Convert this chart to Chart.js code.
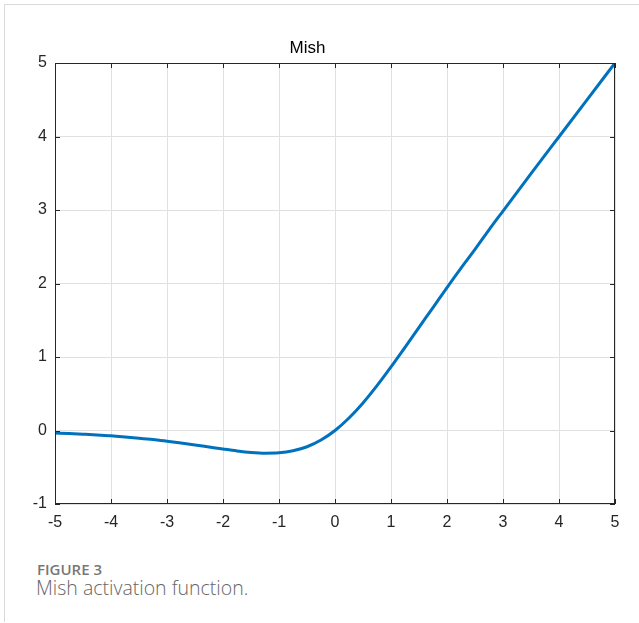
<!DOCTYPE html>
<html>
<head>
<meta charset="utf-8">
<script src="https://cdn.jsdelivr.net/npm/chart.js@4.4.0/dist/chart.umd.min.js"></script>
<style>
  body { margin: 0; background: #fff; }
  #frame {
    position: absolute; left: 4px; top: 4px; width: 635px; height: 617px;
    border-top: 1px solid #d9d9d9; border-left: 1px solid #d9d9d9;
  }
  #wrap { position: absolute; left: 0; top: 0; width: 639px; height: 540px; }
  .cap1 {
    position: absolute; left: 37px; top: 559px; line-height: 1;
    font: 600 15px "Open Sans", sans-serif; color: #777;
  }
  .cap2 {
    position: absolute; left: 36px; top: 574px; line-height: 1;
    font: 300 19.5px "Open Sans", sans-serif; color: #666;
  }
</style>
</head>
<body>
<div id="frame"></div>
<div id="wrap"><canvas id="chart" width="639" height="540"></canvas></div>
<div class="cap1">FIGURE 3</div>
<div class="cap2">Mish activation function.</div>
<script>
const xValues = [-5, -4.75, -4.5, -4.25, -4, -3.75, -3.5, -3.25, -3, -2.75, -2.5, -2.25, -2, -1.75, -1.5, -1.25, -1, -0.75, -0.5, -0.25, 0, 0.25, 0.5, 0.75, 1, 1.25, 1.5, 1.75, 2, 2.25, 2.5, 2.75, 3, 3.5, 4, 4.5, 5]
const mishValues = [-0.034, -0.041, -0.050, -0.060, -0.073, -0.087, -0.104, -0.123, -0.146, -0.170, -0.196, -0.224, -0.252, -0.278, -0.298, -0.308, -0.303, -0.276, -0.221, -0.130, 0, 0.170, 0.375, 0.610, 0.865, 1.132, 1.403, 1.673, 1.944, 2.209, 2.464, 2.730, 2.986, 3.494, 3.997, 4.499, 5.0]
const xTicks = [-5, -4, -3, -2, -1, 0, 1, 2, 3, 4, 5]
const yTicks = [-1, 0, 1, 2, 3, 4, 5]

const axisColor = '#262626'
const fontFamily = 'Liberation Sans, Arial, sans-serif'

// MATLAB-style box with inward tick marks
const boxPlugin = {
  id: 'box',
  afterDraw(chart) {
    const { ctx, chartArea: a, scales } = chart
    ctx.save()
    ctx.strokeStyle = axisColor
    ctx.lineWidth = 1
    ctx.strokeRect(a.left + 0.5, a.top + 0.5, a.right - a.left - 1, a.bottom - a.top - 1)
    const len = 5
    ctx.beginPath()
    xTicks.forEach(v => {
      const px = Math.round(scales.x.getPixelForValue(v)) + 0.5
      ctx.moveTo(px, a.bottom); ctx.lineTo(px, a.bottom - len)
      ctx.moveTo(px, a.top); ctx.lineTo(px, a.top + len)
    })
    yTicks.forEach(v => {
      const py = Math.round(scales.y.getPixelForValue(v)) + 0.5
      ctx.moveTo(a.left, py); ctx.lineTo(a.left + len, py)
      ctx.moveTo(a.right, py); ctx.lineTo(a.right - len, py)
    })
    ctx.stroke()
    ctx.restore()
  }
}

new Chart(document.getElementById('chart'), {
  type: 'line',
  data: {
    datasets: [{
      label: 'Mish',
      data: xValues.map((x, i) => ({ x: x, y: mishValues[i] })),
      borderColor: '#0072BD',
      borderWidth: 3,
      pointRadius: 0,
      cubicInterpolationMode: 'monotone',
      fill: false
    }]
  },
  options: {
    responsive: false,
    animation: false,
    layout: { padding: { left: 0, right: 24, top: 0, bottom: 0 } },
    plugins: {
      legend: { display: false },
      tooltip: { enabled: false },
      title: {
        display: true,
        text: 'Mish',
        color: '#000',
        font: { family: fontFamily, size: 17, weight: 'normal' },
        padding: { top: 38, bottom: 4.6 }
      }
    },
    scales: {
      x: {
        type: 'linear',
        min: -5,
        max: 5,
        afterBuildTicks: s => { s.ticks = xTicks.map(v => ({ value: v })) },
        afterFit: s => { s.height = 36 },
        ticks: {
          color: '#262626',
          padding: 9,
          maxRotation: 0,
          font: { family: fontFamily, size: 16 }
        },
        grid: { color: '#e0e0e0', drawTicks: false },
        border: { display: false }
      },
      y: {
        type: 'linear',
        min: -1,
        max: 5,
        afterBuildTicks: s => { s.ticks = yTicks.map(v => ({ value: v })) },
        afterFit: s => { s.width = 55 },
        ticks: {
          color: '#262626',
          padding: 8,
          font: { family: fontFamily, size: 16 }
        },
        grid: { color: '#e0e0e0', drawTicks: false },
        border: { display: false }
      }
    }
  },
  plugins: [boxPlugin]
})
</script>
</body>
</html>
